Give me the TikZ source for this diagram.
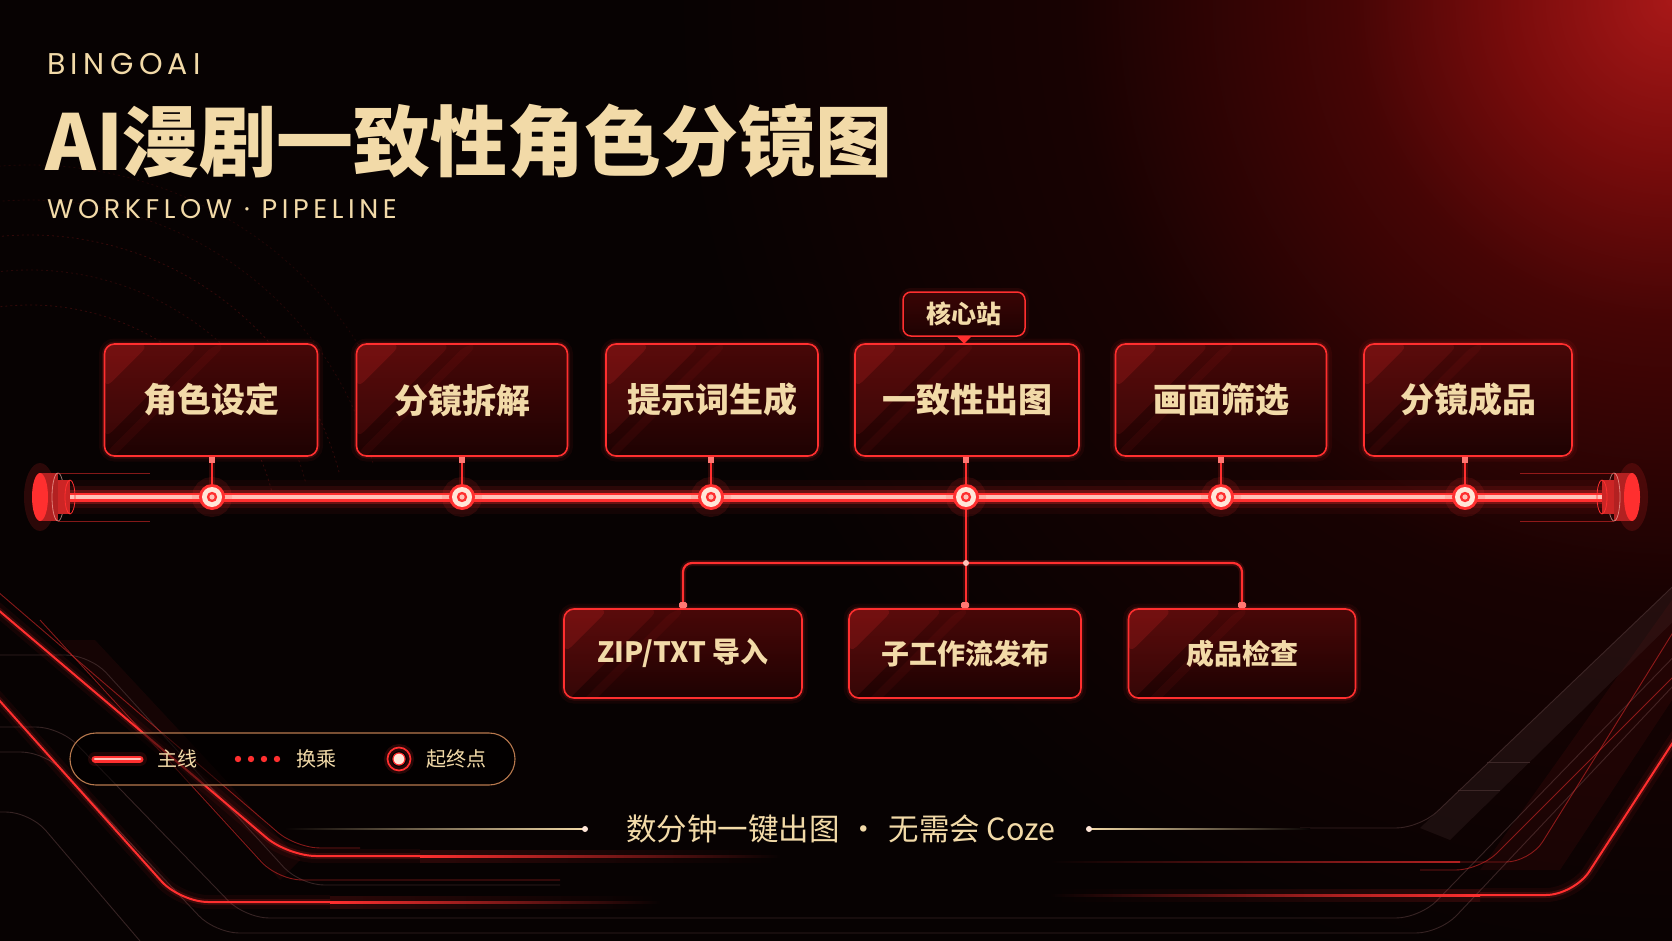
\documentclass[tikz,border=0pt]{standalone}
\usepackage{fontspec}
\setmainfont{Noto Sans CJK SC}
\newfontfamily\brandfont[LetterSpace=18]{Poppins}
\newfontfamily\subfont[LetterSpace=17]{Poppins}
\definecolor{bgk}{HTML}{070202}
\definecolor{gA}{HTML}{A81818}
\definecolor{gB}{HTML}{7A0C0C}
\definecolor{gC}{HTML}{460505}
\definecolor{gD}{HTML}{180202}
\definecolor{neon}{HTML}{FF2F2F}
\definecolor{neonpale}{HTML}{FFC2B8}
\definecolor{cream}{HTML}{FFE6D8}
\definecolor{gold}{HTML}{F2DAA8}
\definecolor{boxtop}{HTML}{480707}
\definecolor{boxbot}{HTML}{1E0202}
\definecolor{copper}{HTML}{B8794E}
\definecolor{arcred}{HTML}{6A1212}
\definecolor{grayln}{HTML}{4A3232}
\definecolor{pilltop}{HTML}{3A0505}
\pgfdeclareradialshading{tlglow}{\pgfpointorigin}{color(0bp)=(gA); color(4bp)=(gB); color(8bp)=(gC); color(15bp)=(gD); color(25bp)=(bgk); color(50bp)=(bgk)}
\begin{document}
\begin{tikzpicture}[x=1pt, y=-1pt,
  boxhl/.style={path picture={
    \fill[neon, opacity=0.10] (path picture bounding box.north west) -- ([xshift=95pt]path picture bounding box.north west) -- ([yshift=-95pt]path picture bounding box.north west) -- cycle;
    \fill[neon, opacity=0.16] (path picture bounding box.north west) -- ([xshift=45pt]path picture bounding box.north west) -- ([yshift=-45pt]path picture bounding box.north west) -- cycle;
    \fill[neon, opacity=0.06] ([xshift=110pt]path picture bounding box.north west) -- ([xshift=122pt]path picture bounding box.north west) -- ([yshift=-122pt]path picture bounding box.north west) -- ([yshift=-110pt]path picture bounding box.north west) -- cycle;}},
  stationbox/.style={draw=neon, line width=1.6pt, rounded corners=10pt, top color=boxtop, bottom color=boxbot, text=gold, inner sep=0pt,
    font=\bfseries\fontsize{34pt}{40pt}\selectfont, minimum height=112pt,
    preaction={draw=neon, line width=11pt, opacity=0.06}, preaction={draw=neon, line width=5pt, opacity=0.14}, boxhl},
  subbox/.style={stationbox, minimum height=89pt, font=\bfseries\fontsize{28pt}{34pt}\selectfont},
  tagpill/.style={draw=neon, line width=1.5pt, rounded corners=8pt, top color=pilltop, bottom color=boxbot, text=gold, inner sep=0pt,
    minimum width=122pt, minimum height=44pt, font=\bfseries\fontsize{25pt}{30pt}\selectfont,
    preaction={draw=neon, line width=8pt, opacity=0.08}},
  stationdot/.style={circle, minimum size=26pt, inner sep=0pt, fill=neon,
    preaction={draw=neon, line width=14pt, opacity=0.12},
    path picture={\fill[cream] (path picture bounding box.center) circle[radius=10pt];
      \fill[neon] (path picture bounding box.center) circle[radius=5.2pt];
      \fill[neonpale] (path picture bounding box.center) circle[radius=2.6pt];}},
  stub/.style={draw=neon, line width=2.2pt, preaction={draw=neon, line width=6pt, opacity=0.15}},
  knob/.style={fill=neon!60!cream},
  legtext/.style={anchor=west, inner sep=0pt, text=gold, font=\fontsize{20pt}{24pt}\selectfont},
  glowred/.style={draw=neon, line width=2pt, rounded corners=28pt, preaction={draw=neon, line width=14pt, opacity=0.06}, preaction={draw=neon, line width=6pt, opacity=0.16}},
  thinred/.style={draw=neon!85!black, line width=0.9pt, opacity=0.6, rounded corners=24pt},
  grayline/.style={draw=grayln, line width=0.9pt, opacity=0.7, rounded corners=24pt},
  tailR/.style={left color=#1, right color=bgk},
  tailL/.style={left color=bgk, right color=#1}
]
\useasboundingbox (0,0) rectangle (1672,941);
% ---------- background ----------
\fill[bgk] (0,0) rectangle (1672,941);
\begin{scope}
  \clip (0,0) rectangle (1672,941);
  \shade[shading=tlglow] (1672,0) circle[radius=1000pt];
  % faint arcs on the left
  \foreach \r/\op/\dsh in {250/0.45/solid, 285/0.35/dashed, 320/0.45/solid, 355/0.3/dashed, 390/0.25/solid}{
    \draw[arcred, opacity=\op, line width=0.8pt, \dsh, dash pattern=on 2pt off 3pt] ([shift={(15:\r pt)}]30,555) arc[start angle=15, end angle=115, radius=\r pt];
  }
  % bottom-left decoration
  \fill[neon, opacity=0.06] (95,640) -- (300,860) -- (280,880) -- (60,640) -- cycle;
  \draw[grayline] (0,655) -- (90,655) -- (300,885) -- (560,885);
  \draw[grayline] (0,727) -- (60,727) -- (245,918) -- (1420,918) -- (1690,640);
  \draw[grayline] (0,752) -- (45,752) -- (215,933) -- (1440,933) -- (1690,668);
  \draw[grayline] (0,812) -- (30,812) -- (140,941);
  \draw[thinred] (-10,585) -- (296,848) -- (360,848);
  \draw[thinred] (40,620) -- (278,880) -- (560,880);
  \draw[glowred] (-10,603) -- (288,856) -- (420,856);
  \shade[tailR=neon] (420,855) rectangle (780,857);
  \shade[tailR=neon, opacity=0.15] (420,850) rectangle (780,862);
  \draw[glowred] (-10,690) -- (180,902) -- (330,902);
  \shade[tailR=neon] (330,901) rectangle (660,903);
  \shade[tailR=neon, opacity=0.15] (330,896) rectangle (660,908);
  % bottom-right decoration
  \fill[neon, opacity=0.06] (1672,600) -- (1672,700) -- (1560,870) -- (1480,870) -- cycle;
  \draw[grayline] (1690,570) -- (1420,828) -- (1300,828);
  \fill[grayln, opacity=0.25] (1690,570) -- (1690,605) -- (1450,840) -- (1420,828) -- cycle;
  \draw[grayline] (1487,762) -- (1530,762);
  \draw[grayline] (1458,790) -- (1500,790);
  \draw[thinred] (1690,605) -- (1530,862) -- (1460,862);
  \shade[tailL=neon!70!black] (1050,861.5) rectangle (1460,862.5);
  \draw[thinred] (1690,660) -- (1480,870) -- (1420,870);
  \draw[glowred] (1690,716) -- (1574,895) -- (1480,895);
  \shade[tailL=neon] (1050,894) rectangle (1480,896);
  \shade[tailL=neon, opacity=0.15] (1050,889) rectangle (1480,901);
\end{scope}
% ---------- titles ----------
\node[anchor=west, inner sep=0pt, text=gold, font=\brandfont\fontsize{30pt}{34pt}\selectfont] (brand) at (47,64) {BINGOAI};
\node[anchor=west, inner sep=0pt, text=gold, font=\bfseries\fontsize{77pt}{82pt}\selectfont] (title) at (45,141) {AI漫剧一致性角色分镜图};
\node[anchor=west, inner sep=0pt, text=gold, font=\subfont\fontsize{27pt}{30pt}\selectfont] (subtitle) at (47,209) {WORKFLOW · PIPELINE};
% ---------- pipeline ----------
\coordinate (pl) at (62,497);
\coordinate (pr) at (1612,497);
\draw[neon, line width=34pt, opacity=0.05] (pl) -- (pr);
\draw[neon, line width=22pt, opacity=0.10] (pl) -- (pr);
\draw[neon, line width=14pt, opacity=0.28] (pl) -- (pr);
\draw[neon, line width=9pt] (pl) -- (pr);
\draw[neonpale, line width=3.5pt] (pl) -- (pr);
% end caps
\foreach \a/\b/\c in {40/58/70, 1632/1614/1602}{
  \fill[neon, opacity=0.15] (\a,497) ellipse[x radius=16pt, y radius=34pt];
  \fill[neon!70!black] (\a,473) rectangle (\b,521);
  \fill[neon] (\a,497) ellipse[x radius=8pt, y radius=24pt];
  \draw[neonpale, line width=0.8pt, opacity=0.6] (\b,497) ellipse[x radius=6pt, y radius=24pt];
  \fill[neon!80!black] (\b,480) rectangle (\c,514);
  \draw[neon, line width=0.8pt] (\c,497) ellipse[x radius=5pt, y radius=17pt];
}
\draw[neon, line width=0.6pt, opacity=0.5] (58,473) -- (150,473) (58,521) -- (150,521);
\draw[neon, line width=0.6pt, opacity=0.5] (1614,473) -- (1520,473) (1614,521) -- (1520,521);
% ---------- stations ----------
\node[stationdot] (d1) at (212,497) {};
\node[stationdot] (d2) at (462,497) {};
\node[stationdot] (d3) at (711,497) {};
\node[stationdot] (d4) at (966,497) {};
\node[stationdot] (d5) at (1221,497) {};
\node[stationdot] (d6) at (1465,497) {};
\node[stationbox, minimum width=213pt] (s1) at (211,400) {角色设定};
\node[stationbox, minimum width=211pt] (s2) at (462,400) {分镜拆解};
\node[stationbox, minimum width=212pt] (s3) at (712,400) {提示词生成};
\node[stationbox, minimum width=224pt] (s4) at (967,400) {一致性出图};
\node[stationbox, minimum width=211pt] (s5) at (1221,400) {画面筛选};
\node[stationbox, minimum width=208pt] (s6) at (1468,400) {分镜成品};
\foreach \i in {1,...,6}{
  \draw[stub] (s\i.south -| d\i) -- (d\i.north);
  \fill[knob] ([xshift=-3pt, yshift=-6pt]s\i.south -| d\i) rectangle ([xshift=3pt]s\i.south -| d\i);
}
% core station tag
\node[tagpill] (core) at (964,314) {核心站};
\fill[neon] ([xshift=-7pt]core.south) -- ([xshift=7pt]core.south) -- ([yshift=-7pt]core.south) -- cycle;
% ---------- branch ----------
\node[subbox, minimum width=238pt] (b1) at (683,653.5) {ZIP/TXT 导入};
\node[subbox, minimum width=232pt] (b2) at (965,653.5) {子工作流发布};
\node[subbox, minimum width=227pt] (b3) at (1242,653.5) {成品检查};
\coordinate (jn) at (966,563);
\draw[stub] (d4.south) -- (jn);
\draw[stub, rounded corners=9pt] (b1.north) |- (jn) -| (b3.north);
\draw[stub] (jn) -- (b2.north -| jn);
\fill[neonpale] (jn) circle[radius=3pt];
\foreach \b in {b1,b2,b3}{
  \fill[knob, rounded corners=1.5pt] ([xshift=-4pt, yshift=6pt]\b.north) rectangle ([xshift=4pt]\b.north);
}
% ---------- legend ----------
\node[draw=copper, line width=1.1pt, rounded corners=26pt, fill=black, fill opacity=0.55, minimum width=445pt, minimum height=52pt] (legend) at (292.5,759) {};
\coordinate (la) at (95,759);
\coordinate (lb) at (140,759);
\draw[neon, line width=14pt, opacity=0.12, line cap=round] (la) -- (lb);
\draw[neon, line width=7pt, line cap=round] (la) -- (lb);
\draw[neonpale, line width=2.5pt, line cap=round] (la) -- (lb);
\node[legtext] (lt1) at (157,759) {主线};
\foreach \x in {238,251,264,277}{ \fill[neon] (\x,759) circle[radius=3.2pt]; }
\node[legtext] (lt2) at (296,759) {换乘};
\node[circle, draw=neon, line width=1.7pt, minimum size=23pt, inner sep=0pt, preaction={draw=neon, line width=7pt, opacity=0.15}] (lring) at (399,759) {};
\node[circle, fill=cream, draw=neon, line width=1.2pt, minimum size=12pt, inner sep=0pt] (lcore) at (lring) {};
\node[legtext] (lt3) at (426,759) {起终点};
% ---------- tagline ----------
\node[inner sep=0pt, text=gold, font=\fontsize{30.5pt}{34pt}\selectfont] (tag) at (841,829) {数分钟一键出图\hspace{0.3em}·\hspace{0.3em}无需会 Coze};
\coordinate (tl) at (585,829);
\coordinate (tr) at (1089,829);
\shade[tailL=gold] (285,828.4) rectangle (tl |- 0,829.6);
\shade[tailR=gold] (tr |- 0,828.4) rectangle (1310,829.6);
\fill[cream] (tl) circle[radius=3pt];
\fill[cream] (tr) circle[radius=3pt];
\end{tikzpicture}
\end{document}
